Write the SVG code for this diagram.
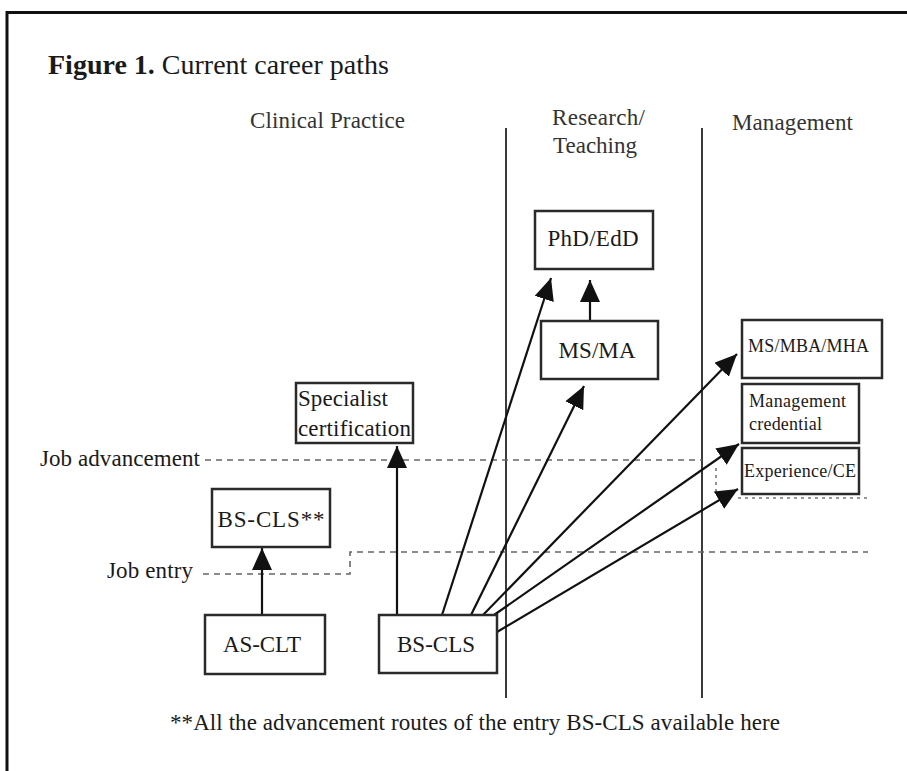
<svg xmlns="http://www.w3.org/2000/svg" width="907" height="771" viewBox="0 0 907 771">
<style>
text{font-family:"Liberation Serif","Times New Roman",serif;fill:#1a1a1a}
.box{fill:#fff;stroke:#2a2a2a;stroke-width:2.5}
.t{font-size:23px}
.c{text-anchor:middle}
.s{font-size:18px}
.hdr{font-size:23px;fill:#333}
.div{stroke:#3a3a3a;stroke-width:2}
.dash{stroke:#666;stroke-width:1.6;stroke-dasharray:6 5;fill:none}
.dot{stroke:#777;stroke-width:1.6;stroke-dasharray:3 4;fill:none}
.arr{stroke:#111;stroke-width:2.2;fill:none;marker-end:url(#ah)}
</style>
<defs>
<marker id="ah" markerUnits="userSpaceOnUse" markerWidth="24" markerHeight="22" refX="22" refY="10" orient="auto">
<path d="M0,0 L22,10 L0,20 Z" fill="#111"/>
</marker>
</defs>
<rect width="907" height="771" fill="#fff"/>
<g id="frame">
<path d="M7,771 V12.5 H907" fill="none" stroke="#111" stroke-width="3"/>
</g>
<g id="title">
<text x="48" y="74" style="font-size:28px"><tspan font-weight="bold">Figure 1.</tspan> Current career paths</text>
</g>
<g id="headers">
<text class="hdr" x="250" y="128" textLength="155">Clinical Practice</text>
<text class="hdr" x="552" y="125" textLength="93">Research/</text>
<text class="hdr" x="553" y="153" textLength="84">Teaching</text>
<text class="hdr" x="732" y="130" textLength="121">Management</text>
</g>
<g id="dividers">
<line class="div" x1="506" y1="128" x2="506" y2="698"/>
<line class="div" x1="702" y1="128" x2="702" y2="698"/>
</g>
<g id="levels">
<text class="t" x="40" y="466" textLength="160">Job advancement</text>
<line class="dash" x1="205" y1="460" x2="702" y2="460"/>
<path class="dot" d="M716,468 V492"/>
<line class="dot" x1="738" y1="498" x2="867" y2="498"/>
<text class="t" x="107" y="578" textLength="86">Job entry</text>
<path class="dash" d="M203,574 H350 V552 H868"/>
</g>
<g id="connectors">
<line class="arr" x1="262" y1="615" x2="262" y2="548"/>
<line class="arr" x1="397" y1="615" x2="397" y2="446"/>
<line class="arr" x1="442" y1="615" x2="551" y2="278"/>
<line class="arr" x1="471" y1="615" x2="584" y2="386"/>
<line class="arr" x1="483" y1="615" x2="737" y2="354"/>
<line class="arr" x1="494" y1="615" x2="739" y2="444"/>
<line class="arr" x1="497" y1="632" x2="738" y2="489"/>
<line class="arr" x1="590" y1="321" x2="590" y2="280"/>
</g>
<g id="phd">
<rect class="box" x="535" y="211" width="118" height="58"/>
<text class="t c" x="593" y="246" textLength="91">PhD/EdD</text>
</g>
<g id="msma">
<rect class="box" x="541" y="321" width="117" height="58"/>
<text class="t c" x="597" y="358" textLength="77">MS/MA</text>
</g>
<g id="specialist">
<rect class="box" x="296" y="383" width="117" height="60"/>
<text class="t" x="298" y="406" textLength="90">Specialist</text>
<text class="t" x="298" y="436" textLength="113">certification</text>
</g>
<g id="bscls2">
<rect class="box" x="212" y="489" width="118" height="58"/>
<text class="t c" x="271" y="527" textLength="107">BS-CLS**</text>
</g>
<g id="ascl">
<rect class="box" x="205" y="615" width="120" height="59"/>
<text class="t c" x="262" y="652" textLength="78">AS-CLT</text>
</g>
<g id="bscls">
<rect class="box" x="379" y="615" width="118" height="58"/>
<text class="t c" x="436" y="652" textLength="78">BS-CLS</text>
</g>
<g id="msmba">
<rect class="box" x="742" y="320" width="140" height="58"/>
<text class="s" x="748" y="352" textLength="121">MS/MBA/MHA</text>
</g>
<g id="mgmtcred">
<rect class="box" x="742" y="384" width="117" height="59"/>
<text class="s" x="749" y="407" textLength="97">Management</text>
<text class="s" x="749" y="430" textLength="73">credential</text>
</g>
<g id="experience">
<rect class="box" x="742" y="448" width="117" height="46"/>
<text class="s" x="744" y="477" textLength="112">Experience/CE</text>
</g>
<g id="footnote">
<text class="t" x="170" y="730" textLength="610">**All the advancement routes of the entry BS-CLS available here</text>
</g>
</svg>
